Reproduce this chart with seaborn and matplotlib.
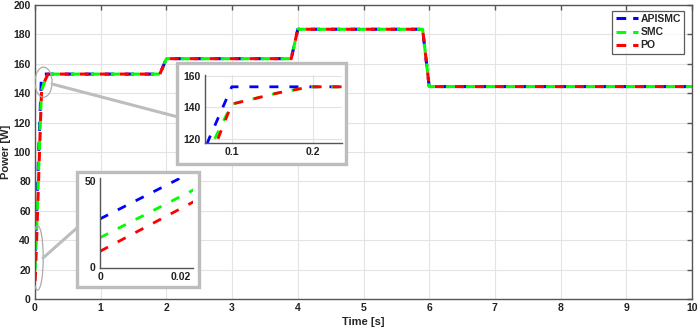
"""Power tracking comparison: APISMC vs SMC vs PO with two zoom insets."""
import matplotlib
matplotlib.use("Agg")
import matplotlib.pyplot as plt
import numpy as np
import pandas as pd
import seaborn as sns
from matplotlib.lines import Line2D
from matplotlib.patches import Ellipse, Rectangle

# ---- data ----
series_names = ["APISMC", "SMC", "PO"]
series_colors = ["#0000ff", "#00ff00", "#ff0000"]

# start-up transients (time [s], power [W])
apismc_t = [0.0, 0.019, 0.072, 0.089, 0.1]
apismc_p = [28, 51, 120, 140, 153]
smc_t = [0.0, 0.023, 0.079, 0.1, 0.156, 0.197]
smc_p = [17, 45, 120, 142, 149, 153]
po_t = [0.0, 0.023, 0.083, 0.1, 0.156, 0.197]
po_p = [9, 38, 120, 142, 149, 153]

# irradiance steps shared by all three controllers
step_t = [1.9, 2.0, 3.9, 4.0, 5.9, 6.0, 10.0]
step_p = [153, 163.5, 163.5, 183.5, 183.5, 144.5, 144.5]

x_ticks = list(range(0, 11))
y_ticks = list(range(0, 201, 20))

frames = []
for name, t, p in [("APISMC", apismc_t, apismc_p),
                   ("SMC", smc_t, smc_p),
                   ("PO", po_t, po_p)]:
    frames.append(pd.DataFrame({"time": t + step_t, "power": p + step_p,
                                "series": name}))
df = pd.concat(frames, ignore_index=True)

# ---- styling ----
sns.set_style("whitegrid")
plt.rcParams["font.family"] = ["Liberation Sans", "DejaVu Sans"]
plt.rcParams["font.weight"] = "bold"
plt.rcParams["lines.scale_dashes"] = False
SPINE = "#555555"
GRID = "#e3e3e3"
BOX = "#bdbdbd"

W, H = 699, 331
fig = plt.figure(figsize=(W / 100, H / 100), dpi=100)

DASH = (6.5, 7.9)
PERIOD = sum(DASH)
# dash phase where the curves merge: red, a sliver of blue, then green
MAIN_PHASE = {"APISMC": 10.8, "SMC": 6.5, "PO": 0.0}
# in the 0.1 s zoom the green dashes sit under the red ones
ZOOM_PHASE = {"APISMC": 0.0, "SMC": 0.0, "PO": 0.0}


def px_axes(left, top, right, bottom):
    return [left / W, 1 - bottom / H, (right - left) / W, (bottom - top) / H]


def draw_series(ax, lw):
    for name, color in zip(series_names, series_colors):
        sub = df[df["series"] == name]
        sns.lineplot(data=sub, x="time", y="power", color=color, ax=ax,
                     estimator=None, sort=False, linewidth=lw,
                     linestyle=(0, DASH), label=name)


def align_phase(ax, anchor_t, phases):
    for line, name in zip(ax.lines[:3], series_names):
        xs, ys = line.get_data()
        xs = np.asarray(xs, dtype=float)
        disp = ax.transData.transform(np.column_stack([xs, ys]))
        idx = int(np.argmin(np.abs(xs - anchor_t)))
        seg = np.diff(disp[: idx + 1], axis=0)
        length = np.hypot(seg[:, 0], seg[:, 1]).sum() * 72 / fig.dpi
        offset = (phases[name] - length) % PERIOD
        line.set_linestyle((offset, DASH))


def style_axes(ax, size):
    for side in ["top", "right", "left", "bottom"]:
        ax.spines[side].set_color(SPINE)
        ax.spines[side].set_linewidth(1.0)
    ax.tick_params(direction="in", length=3.5, width=1, color=SPINE,
                   labelsize=size, labelcolor="#222222", pad=3)
    ax.grid(True, color=GRID, linewidth=0.8)


def bold_ticks(ax):
    plt.setp(ax.get_xticklabels(), fontweight="bold")
    plt.setp(ax.get_yticklabels(), fontweight="bold")


# ---- main axes ----
ax = fig.add_axes(px_axes(35, 5, 692, 299))
draw_series(ax, 2.2)
ax.set_xlim(0, 10)
ax.set_ylim(0, 200)
align_phase(ax, step_t[0], MAIN_PHASE)
ax.set_xticks(x_ticks)
ax.set_xticklabels([str(v) for v in x_ticks])
ax.set_yticks(y_ticks)
ax.set_yticklabels([str(v) for v in y_ticks])
ax.tick_params(top=True, right=True)
style_axes(ax, 7.5)
bold_ticks(ax)
ax.set_xlabel("Time [s]", fontsize=8, fontweight="bold", labelpad=3)
ax.set_ylabel("Power [W]", fontsize=8, fontweight="bold", labelpad=2)

leg = ax.legend(loc="upper right", bbox_to_anchor=(684 / W, 1 - 11 / H),
                bbox_transform=fig.transFigure, borderaxespad=0,
                prop={"size": 7.5, "weight": "bold"}, frameon=True,
                fancybox=False, handlelength=2.2, handletextpad=0.2,
                borderpad=0.3, labelspacing=0.3)
leg.get_frame().set_edgecolor("#333333")
leg.get_frame().set_linewidth(0.9)
for hl in leg.get_lines():
    hl.set_linestyle((0, (7, 5)))

# ellipses marking the zoomed regions
ax.add_patch(Ellipse((0.13, 147.5), 0.26, 20.5, facecolor="none",
                     edgecolor="#aaaaaa", linewidth=0.9, zorder=5))
ax.add_patch(Ellipse((0.04, 28), 0.17, 44, facecolor="none",
                     edgecolor="#aaaaaa", linewidth=0.9, zorder=5))

# connector lines (figure pixels)
for (x0, y0), (x1, y1) in [((52, 84), (178, 117)), ((43, 258), (78, 227))]:
    fig.add_artist(Line2D([x0 / W, x1 / W], [1 - y0 / H, 1 - y1 / H],
                          color=BOX, linewidth=2.2, zorder=3))

# grey frames around insets
for (l, t, r, b) in [(177, 63, 346, 164), (77, 172, 199, 287)]:
    fig.add_artist(Rectangle((l / W, 1 - b / H), (r - l) / W, (b - t) / H,
                             facecolor="white", edgecolor=BOX,
                             linewidth=2.4, zorder=4))

# ---- inset 1: around t = 0.1 s ----
ax1 = fig.add_axes(px_axes(205, 75, 342, 143))
ax1.set_zorder(6)
draw_series(ax1, 2.0)
ax1.set_xlim(0.067, 0.236)
ax1.set_ylim(117.3, 160.5)
align_phase(ax1, po_t[2], ZOOM_PHASE)
ax1.set_xticks([0.1, 0.2])
ax1.set_xticklabels(["0.1", "0.2"])
ax1.set_yticks([120, 140, 160])
ax1.set_yticklabels(["120", "140", "160"])
style_axes(ax1, 7.5)
bold_ticks(ax1)
ax1.spines["top"].set_visible(False)
ax1.spines["right"].set_visible(False)
ax1.set_xlabel("")
ax1.set_ylabel("")
ax1.get_legend().remove()

# ---- inset 2: around t = 0 ----
ax2 = fig.add_axes(px_axes(100, 178, 193, 268))
ax2.set_zorder(6)
draw_series(ax2, 2.0)
ax2.set_xlim(0, 0.0229)
ax2.set_ylim(-0.8, 52)
ax2.set_xticks([0, 0.02])
ax2.set_xticklabels(["0", "0.02"])
ax2.set_yticks([0, 50])
ax2.set_yticklabels(["0", "50"])
style_axes(ax2, 7.5)
bold_ticks(ax2)
ax2.spines["top"].set_visible(False)
ax2.spines["right"].set_visible(False)
ax2.grid(False)
ax2.set_xlabel("")
ax2.set_ylabel("")
ax2.get_legend().remove()

fig.savefig("out.png", dpi=100)
plt.close(fig)
